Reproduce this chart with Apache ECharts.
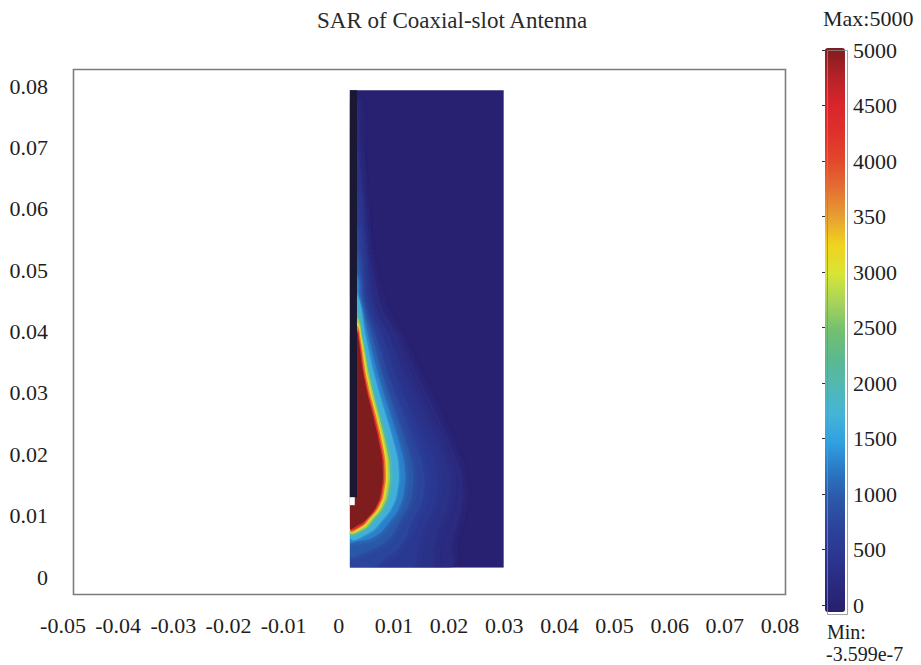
<!DOCTYPE html>
<html><head><meta charset="utf-8">
<script src="https://cdn.jsdelivr.net/npm/echarts@6/dist/echarts.min.js"></script>
<style>html,body{margin:0;padding:0;background:#fff}#c{width:921px;height:665px}</style>
</head><body><div id="c"></div>
<script>
// ---------- text / ticks ----------
const titleText = 'SAR of Coaxial-slot Antenna';
const xTickLabels = ['-0.05','-0.04','-0.03','-0.02','-0.01','0','0.01','0.02','0.03','0.04','0.05','0.06','0.07','0.08'];
const yTickLabels = ['0','0.01','0.02','0.03','0.04','0.05','0.06','0.07','0.08'];
const cbTickLabels = ['0','500','1000','1500','2000','2500','3000','350','4000','4500','5000'];
const maxText = 'Max:5000';
const minText1 = 'Min:';
const minText2 = '-3.599e-7';
const cbMin = 0, cbMax = 5000;

// colour map stops, 0 .. 5000 every 250
const cmapColors = ['#281f6e','#2a2a80','#2c3690','#2c449c','#2c58a8','#2a78c4','#30a0e0','#44b4d8','#52b8b4','#5cb88e',
  '#74c070','#a8d45a','#d8e436','#f0d41e','#e8a032','#e47032','#e2482c','#e0302a','#d8262a','#b42228','#7e1c1e'];

// ---------- geometry of the model (metres) ----------
const domainX = [0.002, 0.0299];
const domainY = [0.0015, 0.0793];
const antennaX = [0.002, 0.0033];
const antennaY = [0.013, 0.0793];
const notchX = [0.002, 0.0029];
const notchY = [0.0117, 0.013];

// ---------- SAR field, read as iso-level outlines ----------
const backgroundLevel = 40;
const contourLevels = [250, 380, 550, 750, 1000, 1300, 1700, 2200, 2700, 3200, 3700, 4300, 5000];
const contourBlur   = [8, 8, 8, 8, 7, 6, 3, 0, 0, 0, 0, 0, 0];
const contour250 = [[0.00335,0.0777],[0.00417,0.0614],[0.00743,0.0451],[0.01106,0.0390],[0.01469,0.0320],[0.01795,0.0261],[0.02049,0.0210],[0.02194,0.0175],[0.02248,0.0140],[0.0223,0.0115],[0.02176,0.0095],[0.02049,0.0052],[0.02013,0.0015]];
const contour380 = [[0.00335,0.0700],[0.00620,0.0451],[0.00930,0.0390],[0.01260,0.0320],[0.01580,0.0261],[0.01850,0.0210],[0.01980,0.0175],[0.02010,0.0140],[0.01970,0.0115],[0.01880,0.0095],[0.01730,0.0052],[0.01640,0.0015]];
const contour550 = [[0.00335,0.0625],[0.00530,0.0451],[0.00800,0.0390],[0.01080,0.0320],[0.01370,0.0261],[0.01630,0.0210],[0.01750,0.0175],[0.01770,0.0140],[0.01710,0.0115],[0.01600,0.0095],[0.01430,0.0052],[0.01300,0.0015]];
const contour750 = [[0.00335,0.0570],[0.00460,0.0451],[0.00690,0.0390],[0.00940,0.0320],[0.01200,0.0261],[0.01420,0.0210],[0.01530,0.0175],[0.01540,0.0140],[0.01470,0.0115],[0.01350,0.0095],[0.01150,0.0055],[0.00800,0.0027],[0.00600,0.0015]];
const contour1000 = [[0.00335,0.0525],[0.00410,0.0451],[0.00610,0.0390],[0.00830,0.0320],[0.01060,0.0261],[0.01250,0.0210],[0.01340,0.0175],[0.01330,0.0140],[0.01260,0.0115],[0.01130,0.0095],[0.00900,0.0062],[0.00500,0.0042],[0.002,0.0037]];
const contour1300 = [[0.00335,0.0490],[0.00380,0.0451],[0.00545,0.0390],[0.00745,0.0320],[0.00950,0.0261],[0.01120,0.0210],[0.01195,0.0175],[0.01180,0.0140],[0.01100,0.0115],[0.00960,0.0095],[0.00650,0.0066],[0.0030,0.0058],[0.002,0.0057]];
const contour1700 = [[0.00335,0.0460],[0.00490,0.0390],[0.00670,0.0320],[0.00860,0.0261],[0.01020,0.0210],[0.01085,0.0175],[0.01060,0.0140],[0.00970,0.0115],[0.00810,0.0095],[0.00530,0.0071],[0.002,0.0067]];
const contour2200 = [[0.00335,0.0435],[0.00444,0.0390],[0.00598,0.0320],[0.00771,0.0261],[0.00916,0.0210],[0.0097,0.0175],[0.00943,0.0140],[0.00852,0.0115],[0.00689,0.0095],[0.00453,0.0075],[0.002,0.0072]];
const contour2700 = [[0.00335,0.0423],[0.00426,0.0390],[0.00571,0.0320],[0.00734,0.0261],[0.0087,0.0210],[0.00925,0.0175],[0.00898,0.0140],[0.00807,0.0115],[0.00635,0.0095],[0.00435,0.0077],[0.002,0.0074]];
const contour3200 = [[0.00335,0.0415],[0.00408,0.0390],[0.00544,0.0320],[0.00707,0.0261],[0.00843,0.0210],[0.00888,0.0175],[0.00861,0.0140],[0.00771,0.0115],[0.00598,0.0095],[0.00417,0.0079],[0.002,0.0076]];
const contour3700 = [[0.00335,0.0409],[0.0039,0.0390],[0.00517,0.0320],[0.0068,0.0261],[0.00807,0.0210],[0.00852,0.0175],[0.00825,0.0140],[0.00734,0.0115],[0.00562,0.0095],[0.00399,0.0081],[0.002,0.0077]];
const contour4300 = [[0.00335,0.0402],[0.00372,0.0390],[0.0049,0.0320],[0.00653,0.0261],[0.0078,0.0210],[0.00825,0.0175],[0.00798,0.0140],[0.00707,0.0115],[0.00535,0.0095],[0.00381,0.0082],[0.002,0.0079]];
const contour5000 = [[0.00335,0.0397],[0.00354,0.0390],[0.00471,0.0320],[0.00626,0.0261],[0.00752,0.0210],[0.00798,0.0175],[0.00771,0.0140],[0.0068,0.0115],[0.00508,0.0095],[0.00363,0.0085],[0.002,0.0081]];
const contours = [contour250, contour380, contour550, contour750, contour1000, contour1300, contour1700, contour2200, contour2700, contour3200, contour3700, contour4300, contour5000];

// white margins that trim the soft edges back to the model outline
const trimLeftX = [-0.014, 0.002];
const trimBottomY = [-0.0045, 0.0015];
const trimTopY = 0.0815;

// ---------- chart ----------
const FONT = '"Liberation Serif", "DejaVu Serif", serif';
const chart = echarts.init(document.getElementById('c'), null, {renderer: 'svg'});

const fieldData = [[domainX[0], domainY[0], backgroundLevel]].concat(
  contours.map((ct, k) => [ct[0][0], ct[0][1], contourLevels[k]]));

function renderField(params, api) {
  const i = params.dataIndex;
  const c = api.coord;
  const pMin = c([domainX[0], domainY[1]]);
  const pMax = c([domainX[1], domainY[0]]);
  const col = api.visual('color');
  if (i === 0) {
    return {type: 'rect', shape: {x: pMin[0], y: pMin[1], width: pMax[0] - pMin[0], height: pMax[1] - pMin[1]},
      style: {fill: col}};
  }
  const outer = contours[i - 1];
  const ring = outer.slice();
  const first = outer[0], last = outer[outer.length - 1];
  if (last[0] > domainX[0]) ring.push([domainX[0], last[1]]);
  ring.push([domainX[0], first[1]]);
  const blur = contourBlur[i - 1];
  return {type: 'polygon',
    shape: {points: ring.map(p => c(p)), smooth: 0.5},
    style: {fill: col, shadowBlur: blur, shadowColor: blur ? col : 'transparent'}};
}

function box(c, x0, x1, y0, y1, fill) {
  const p0 = c([x0, y1]), p1 = c([x1, y0]);
  return {type: 'rect', shape: {x: p0[0], y: p0[1], width: p1[0] - p0[0], height: p1[1] - p0[1]}, style: {fill: fill}};
}

function renderAntenna(params, api) {
  const c = api.coord;
  return {type: 'group', children: [
    box(c, trimLeftX[0], trimLeftX[1], trimBottomY[0], trimTopY, '#ffffff'),
    box(c, trimLeftX[0], domainX[1] + 0.002, trimBottomY[0], trimBottomY[1], '#ffffff'),
    box(c, antennaX[0], antennaX[1], antennaY[0], antennaY[1], '#1a1832'),
    box(c, notchX[0], notchX[1], notchY[0], notchY[1], '#ffffff')
  ]};
}

const labelStyle = {fontFamily: FONT, fontSize: 22, color: '#1e1e1e'};

chart.setOption({
  animation: false,
  backgroundColor: '#ffffff',
  title: {text: titleText, left: 312, top: 4, z: 20,
    textStyle: {fontFamily: FONT, fontSize: 23, fontWeight: 'normal', color: '#2a2a2a'}},
  grid: [
    {left: 63, right: 141, top: 86, bottom: 88, show: false},
    {left: 825, width: 20, top: 50, height: 555, show: false}
  ],
  xAxis: [
    {type: 'value', gridIndex: 0, min: -0.05, max: 0.08, interval: 0.01,
      axisLine: {show: false}, axisTick: {show: false}, splitLine: {show: false},
      axisLabel: Object.assign({margin: 37, formatter: v => xTickLabels[Math.round((v + 0.05) / 0.01)]}, labelStyle)},
    {type: 'value', gridIndex: 1, show: false, min: 0, max: 1}
  ],
  yAxis: [
    {type: 'value', gridIndex: 0, min: 0, max: 0.08, interval: 0.01,
      axisLine: {show: false}, axisTick: {show: false}, splitLine: {show: false},
      axisLabel: Object.assign({margin: 15, formatter: v => yTickLabels[Math.round(v / 0.01)]}, labelStyle)},
    {type: 'value', gridIndex: 1, position: 'right', min: cbMin, max: cbMax, interval: 500,
      axisLine: {show: false}, splitLine: {show: false},
      axisTick: {show: true, inside: true, length: 3, lineStyle: {color: '#333', width: 1}},
      axisLabel: Object.assign({margin: 8, formatter: v => cbTickLabels[Math.round(v / 500)]}, labelStyle)},
    {type: 'value', gridIndex: 1, position: 'left', min: cbMin, max: cbMax, interval: 500,
      axisLine: {show: false}, splitLine: {show: false}, axisLabel: {show: false},
      axisTick: {show: true, inside: true, length: 3, lineStyle: {color: '#333', width: 1}}}
  ],
  visualMap: {
    type: 'continuous', min: cbMin, max: cbMax, seriesIndex: 0, dimension: 2,
    left: 825, top: 48, itemWidth: 20, itemHeight: 564, padding: 0,
    calculable: false, hoverLink: false, text: null,
    inRange: {color: cmapColors}
  },
  graphic: [
    {type: 'rect', left: 71, top: 67, z: 50, silent: true,
      shape: {width: 712, height: 525}, style: {fill: 'none', stroke: '#7c7c7c', lineWidth: 1.6}},
    {type: 'rect', left: 825, top: 48, z: 50, silent: true,
      shape: {width: 20, height: 564}, style: {fill: 'none', stroke: '#8a8a8a', lineWidth: 0.8}},
    {type: 'text', x: 823, y: 18, silent: true,
      style: {text: maxText, font: '22px ' + FONT, fill: '#1e1e1e', textVerticalAlign: 'middle'}},
    {type: 'text', x: 827, y: 632, silent: true,
      style: {text: minText1, font: '20px ' + FONT, fill: '#1e1e1e', textVerticalAlign: 'middle'}},
    {type: 'text', x: 826, y: 654, silent: true,
      style: {text: minText2, font: '20px ' + FONT, fill: '#1e1e1e', textVerticalAlign: 'middle'}}
  ],
  series: [
    {type: 'custom', coordinateSystem: 'cartesian2d', xAxisIndex: 0, yAxisIndex: 0,
      dimensions: ['x', 'y', 'level'], encode: {x: 0, y: 1},
      data: fieldData, renderItem: renderField, silent: true, z: 2},
    {type: 'custom', coordinateSystem: 'cartesian2d', xAxisIndex: 0, yAxisIndex: 0,
      data: [[antennaX[0], antennaY[0]]], renderItem: renderAntenna, silent: true, z: 3}
  ]
});
</script>
</body></html>
